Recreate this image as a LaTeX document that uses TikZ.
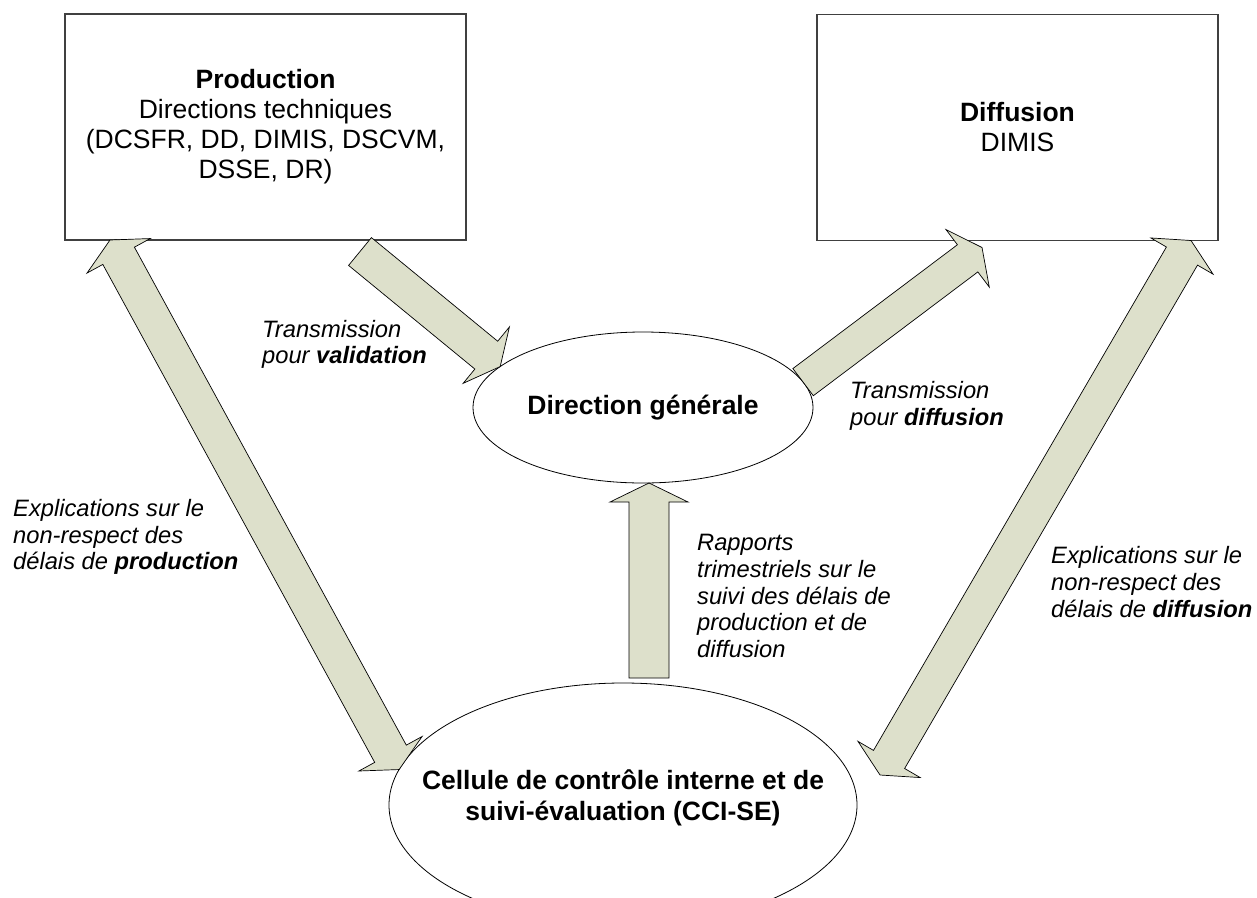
\documentclass[tikz,border=0pt]{standalone}
\usepackage{fontspec}
\setmainfont{Liberation Sans}
\usetikzlibrary{shapes.geometric,calc}
\definecolor{arrfill}{RGB}{221,224,203}
\newcommand\boxfont{\fontsize{26.5}{30}\selectfont}
\newcommand\lblfont{\fontsize{23.7}{26.7}\selectfont\itshape}
\newcommand\ellfont{\fontsize{26.5}{31}\selectfont\bfseries}
\tikzset{
  boxnode/.style={draw=black!75, line width=1.1pt, fill=white, minimum width=401pt, minimum height=226pt, inner sep=0pt, outer sep=0pt, align=center, font=\boxfont},
  ellnode/.style={draw=black, line width=0.8pt, fill=white, ellipse, inner sep=0pt, outer sep=0pt, align=center, font=\ellfont},
  lbl/.style={anchor=west, inner sep=0pt, align=left, font=\lblfont},
  blockarrow/.style={draw=black, line width=0.7pt, fill=arrfill, line join=miter}
}
% single block arrow: #1 prefix, #2 tail, #3 tip, #4 shaft half width, #5 head half width, #6 head length
\newcommand\blockone[6]{%
  \coordinate (#1-h) at ($(#3)!#6!(#2)$);
  \draw[blockarrow] ($(#2)!#4!90:(#3)$) -- ($(#1-h)!#4!90:(#3)$) -- ($(#1-h)!#5!90:(#3)$) -- (#3) -- ($(#1-h)!#5!-90:(#3)$) -- ($(#1-h)!#4!-90:(#3)$) -- ($(#2)!#4!-90:(#3)$) -- cycle;}
% double block arrow: #1 prefix, #2 tip A, #3 tip B
\newcommand\blocktwo[3]{%
  \coordinate (#1-p) at ($(#2)!18pt!(#3)$);
  \coordinate (#1-q) at ($(#3)!18pt!(#2)$);
  \draw[blockarrow] (#2) -- ($(#1-p)!36pt!90:(#3)$) -- ($(#1-p)!18pt!90:(#3)$) -- ($(#1-q)!18pt!90:(#3)$) -- ($(#1-q)!36pt!90:(#3)$) -- (#3) -- ($(#1-q)!36pt!-90:(#3)$) -- ($(#1-q)!18pt!-90:(#3)$) -- ($(#1-p)!18pt!-90:(#3)$) -- ($(#1-p)!36pt!-90:(#3)$) -- cycle;}
\begin{document}
\begin{tikzpicture}[x=1pt, y=-1pt]
\useasboundingbox (0,0) rectangle (1257,897);
\clip (0,0) rectangle (1257,897);
\fill[white] (0,0) rectangle (1257,897);
% nodes
\node[boxnode] (prod) at (265.5,127) {\textbf{Production}\\Directions techniques\\(DCSFR, DD, DIMIS, DSCVM,\\DSSE, DR)};
\node[boxnode] (diff) at (1017.5,127.5) {\textbf{Diffusion}\\DIMIS};
\node[ellnode, minimum width=340pt, minimum height=151pt] (dg) at (643,407.5) {Direction générale};
\node[ellnode, minimum width=468pt, minimum height=244pt] (cci) at (623,805) {\makebox[0pt]{\smash{\begin{tabular}{@{}c@{}}Cellule de contrôle interne et de\\suivi-évaluation (CCI-SE)\end{tabular}}}};
% arrow end points
\coordinate (pa) at (360,251.5);
\coordinate (pb) at (dg.164);
\coordinate (da) at (dg.9.6);
\coordinate (db) at ($(diff.south west)+(165,7)$);
\coordinate (ra) at (649,678);
\coordinate (rb) at ($(dg.south)+(6,0)$);
\coordinate (la) at ($(prod.south west)+(45,0)$);
\coordinate (lb) at (cci.171);
\coordinate (ka) at ($(diff.south east)+(-27,0)$);
\coordinate (kb) at (880,775);
% arrows
\blockone{p}{pa}{pb}{18pt}{36.5pt}{18pt}
\blockone{d}{da}{db}{17pt}{36pt}{18pt}
\blockone{r}{ra}{rb}{20pt}{39pt}{19pt}
\blocktwo{l}{la}{lb}
\blocktwo{k}{ka}{kb}
% labels
\node[lbl] (lv) at (262,344.5) {Transmission\\pour \textbf{validation}};
\node[lbl] (ld) at (850,406) {Transmission\\pour \textbf{diffusion}};
\node[lbl] (lr) at (697,596) {Rapports\\trimestriels sur le\\suivi des délais de\\production et de\\diffusion};
\node[lbl] (lp) at (13,537) {Explications sur le\\non-respect des\\délais de \textbf{production}};
\node[lbl] (lk) at (1051,582) {Explications sur le\\non-respect des\\délais de \textbf{diffusion}};
\end{tikzpicture}
\end{document}
